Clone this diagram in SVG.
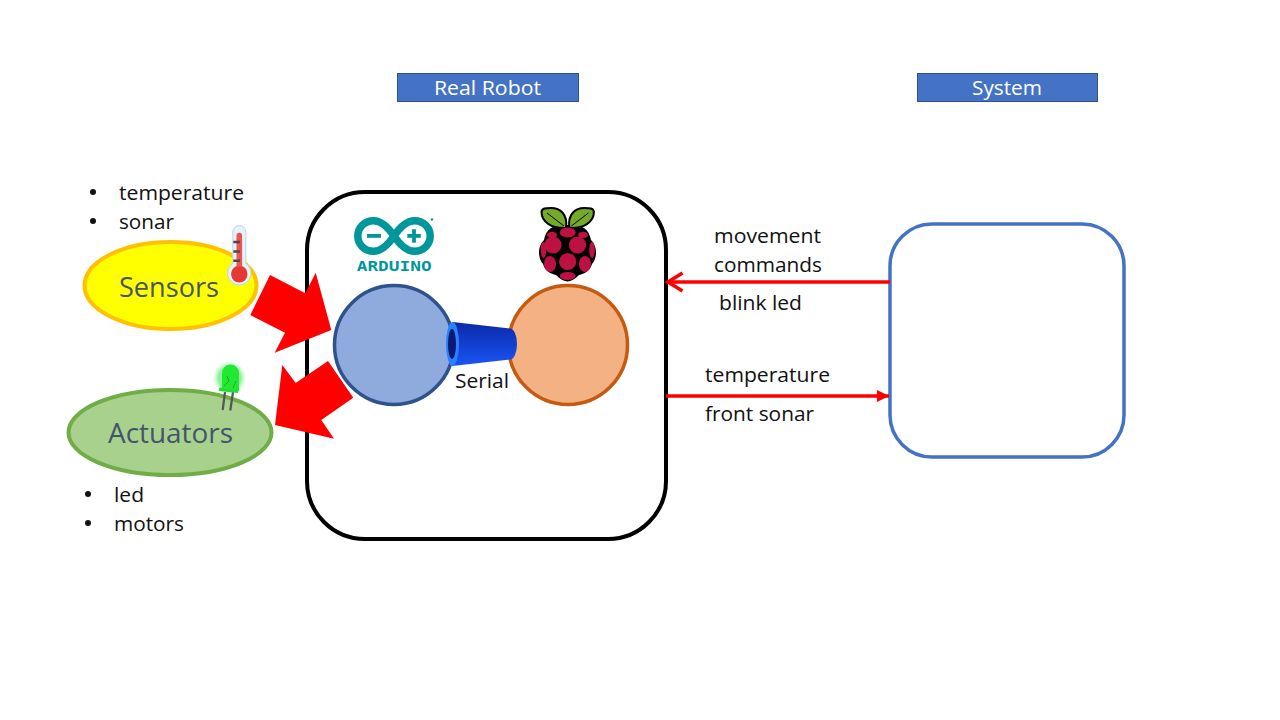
<svg xmlns="http://www.w3.org/2000/svg" width="1280" height="720" viewBox="0 0 1280 720">
<style>
.t{font-family:"Open Sans","Noto Sans",sans-serif;font-size:20px;fill:#111}
.big{font-family:"Open Sans","Noto Sans",sans-serif;font-size:28px;fill:#44546A}
.hd{font-family:"Open Sans","Noto Sans",sans-serif;font-size:20px;fill:#fff}
.hb{fill:#4472C4;stroke:#2F528F;stroke-width:1}
.bul{fill:#111}
.berry{fill:#BC1142}
.leaf{fill:#75A928;stroke:#000;stroke-width:2}
.vein{fill:none;stroke:#000;stroke-width:1}
.teal{fill:none;stroke:#00979C;stroke-width:7.500}
.tick{fill:#00979C}
</style>
<defs>
<linearGradient id="cone" x1="0" y1="0" x2="0" y2="1"><stop offset="0" stop-color="#0B28A8"/><stop offset="1" stop-color="#1A55F5"/></linearGradient>
<radialGradient id="glow"><stop offset="0.65" stop-color="#4CEB5E" stop-opacity="0.65"/><stop offset="1" stop-color="#9CF4A6" stop-opacity="0"/></radialGradient>
<marker id="open" markerUnits="userSpaceOnUse" markerWidth="20" markerHeight="24" refX="18" refY="12" orient="auto"><path d="M2.500,3 L17,12 L2.500,21" fill="none" stroke="#f00" stroke-width="3.500"/></marker>
<marker id="tri" markerUnits="userSpaceOnUse" markerWidth="14" markerHeight="14" refX="12" refY="7" orient="auto"><path d="M0,1 L12,7 L0,13 Z" fill="#f00"/></marker>
</defs>

<g id="header-robot"><rect class="hb" x="397.500" y="73.500" width="181" height="28"/><text class="hd" x="434" y="95" textLength="107" lengthAdjust="spacingAndGlyphs">Real Robot</text></g>
<g id="header-system"><rect class="hb" x="917.500" y="73.500" width="180" height="28"/><text class="hd" x="972" y="95" textLength="70" lengthAdjust="spacingAndGlyphs">System</text></g>

<g id="robot"><rect x="307" y="192" width="359" height="347" rx="58" ry="58" fill="#fff" stroke="#000" stroke-width="4"/></g>
<g id="system"><rect x="890" y="224" width="234" height="233" rx="42" ry="42" fill="#fff" stroke="#4472C4" stroke-width="3.500"/></g>

<g id="sensors">
<ellipse cx="170.500" cy="285.500" rx="86" ry="43.500" fill="#FFFF00" stroke="#FFC000" stroke-width="4"/>
<text class="big" x="119" y="297" textLength="100" lengthAdjust="spacingAndGlyphs">Sensors</text>
<g id="thermometer">
<path d="M232.800,232 a6.500,6.500 0 0 1 13,0 V263.500 a11.700,11.700 0 1 1 -13,0 Z" fill="#E4F2FA" stroke="#BBD7E8" stroke-width="1"/>
<path d="M236.500,235.500 a2.800,2.800 0 0 1 5.600,0 V266 a8,8 0 1 1 -5.600,0 Z" fill="#EF5350"/>
<circle cx="239.300" cy="274.500" r="8" fill="#E53935"/>
<path d="M233.300,242 H240 M233.300,251.500 H240 M233.300,260.800 H240" stroke="#4A4A4A" stroke-width="2.500" fill="none"/>
</g>
</g>

<g id="actuators">
<ellipse cx="170" cy="432.500" rx="101.500" ry="42.500" fill="#A9D18E" stroke="#70AD47" stroke-width="4"/>
<text class="big" x="108" y="443" textLength="125" lengthAdjust="spacingAndGlyphs">Actuators</text>
<g id="led-icon">
<circle cx="229.500" cy="378" r="17" fill="url(#glow)"/>
<path d="M225,392 L222.700,410 M233,392 L230.300,410.500" stroke="#555" stroke-width="2.200" fill="none"/>
<path d="M222,388 V373 a8.500,8.500 0 0 1 17,0 V391 Z" fill="#22E834"/>
<path d="M219.300,387.500 L238.500,390 L238,393 L219,391 Z" fill="#22DC32"/>
<path d="M224,386 L229,381 L227,376 M233,388 L236,381" stroke="#12B020" stroke-width="1" fill="none"/>
</g>
</g>

<g id="arduino">
<circle cx="394" cy="345" r="59.500" fill="#8FAADC" stroke="#2F528F" stroke-width="3.500"/>
<g id="arduino-logo">
<path class="teal" d="M394,236 C388,227 382,220.700 373.500,220.700 C364,220.700 357.800,228 357.800,236 C357.800,244 364,251.300 373.500,251.300 C382,251.300 388,245 394,236 C400,227 406,220.700 414.500,220.700 C424,220.700 430.200,228 430.200,236 C430.200,244 424,251.300 414.500,251.300 C406,251.300 400,245 394,236 Z"/>
<rect class="tick" x="367" y="234" width="14" height="3.800"/>
<rect class="tick" x="407.300" y="234" width="13.500" height="3.800"/>
<rect class="tick" x="412.100" y="229.200" width="3.800" height="13.500"/>
<circle class="tick" cx="432" cy="219.500" r="1.200"/>
<text x="356.700" y="270.700" font-family="DejaVu Sans Mono" font-weight="700" font-size="14" fill="#00979C" textLength="75" lengthAdjust="spacingAndGlyphs">ARDUINO</text>
</g>
</g>

<g id="raspberry">
<circle cx="568" cy="345" r="59.500" fill="#F4B183" stroke="#C55A11" stroke-width="3.500"/>
<g id="raspberry-logo">
<path d="M567.700,225 C555,224 546,228 544,240 C537.500,246 537.500,258 543,264 C545,271 551,274 556,275 C560,279 564,281.500 567.700,281.500 C571,281.500 575,279 579,275 C584,274 590,271 592,264 C597.500,258 597.500,246 591,240 C589,228 580,224 567.700,225 Z" fill="#000"/>
<path class="leaf" d="M566,228 C552,229 541.500,222 541.500,212 C541.500,208 546,208 551,208 C560,208 568,214 566,228 Z"/>
<path class="leaf" d="M569.400,228 C583.400,229 593.900,222 593.900,212 C593.900,208 589.400,208 584.400,208 C575.400,208 567.400,214 569.400,228 Z"/>
<path class="vein" d="M547,213 L564,226 M588.400,213 L571.400,226"/>
<ellipse class="berry" cx="567.700" cy="232.500" rx="8" ry="5"/>
<circle class="berry" cx="553" cy="245" r="8.600"/>
<circle class="berry" cx="577.500" cy="245" r="8.600"/>
<circle class="berry" cx="567.700" cy="261.500" r="8.600"/>
<ellipse class="berry" cx="550" cy="264" rx="6" ry="8"/>
<ellipse class="berry" cx="585" cy="264" rx="6" ry="8"/>
<ellipse class="berry" cx="567.700" cy="276" rx="8" ry="4"/>
<ellipse class="berry" cx="543.500" cy="250" rx="2.800" ry="8"/>
<ellipse class="berry" cx="592" cy="250" rx="2.800" ry="8"/>
<ellipse class="berry" cx="552" cy="235" rx="5" ry="3.200"/>
<ellipse class="berry" cx="583" cy="235" rx="5" ry="3.200"/>
</g>
</g>

<g id="connectors">
<polygon points="270,275 305.300,293.300 315.700,272.700 331.300,330 274.700,352.700 285,332.700 250.300,315" fill="#f00"/>
<polygon points="328,361 353.300,397.700 321.300,420 334,438.700 275,425 282.300,365 295.700,383" fill="#f00"/>
<line x1="890" y1="282" x2="667" y2="282" stroke="#f00" stroke-width="3.500" marker-end="url(#open)"/>
<line x1="666" y1="396" x2="889" y2="396" stroke="#f00" stroke-width="3.500" marker-end="url(#tri)"/>
<g id="serial">
<path d="M452.500,322 L510,328.500 A7,15.500 0 0 1 510,359.500 L452.500,366 Z" fill="url(#cone)"/>
<ellipse cx="452.500" cy="344" rx="6.500" ry="22" fill="#2A80FF"/>
<ellipse cx="452" cy="344" rx="4" ry="15" fill="#0A1A70"/>
</g>
</g>

<g id="labels">
<circle class="bul" cx="93" cy="192" r="3"/><text class="t" x="119" y="200" textLength="125" lengthAdjust="spacingAndGlyphs">temperature</text>
<circle class="bul" cx="93" cy="221" r="3"/><text class="t" x="119" y="229" textLength="55" lengthAdjust="spacingAndGlyphs">sonar</text>
<circle class="bul" cx="88" cy="494" r="3"/><text class="t" x="114" y="502" textLength="30" lengthAdjust="spacingAndGlyphs">led</text>
<circle class="bul" cx="88" cy="523" r="3"/><text class="t" x="114" y="531" textLength="70" lengthAdjust="spacingAndGlyphs">motors</text>
<text class="t" x="455" y="388" textLength="54" lengthAdjust="spacingAndGlyphs">Serial</text>
<text class="t" x="714" y="243" textLength="107" lengthAdjust="spacingAndGlyphs">movement</text>
<text class="t" x="714" y="272" textLength="108" lengthAdjust="spacingAndGlyphs">commands</text>
<text class="t" x="719" y="310" textLength="83" lengthAdjust="spacingAndGlyphs">blink led</text>
<text class="t" x="705" y="382" textLength="125" lengthAdjust="spacingAndGlyphs">temperature</text>
<text class="t" x="705" y="421" textLength="109" lengthAdjust="spacingAndGlyphs">front sonar</text>
</g>
</svg>
